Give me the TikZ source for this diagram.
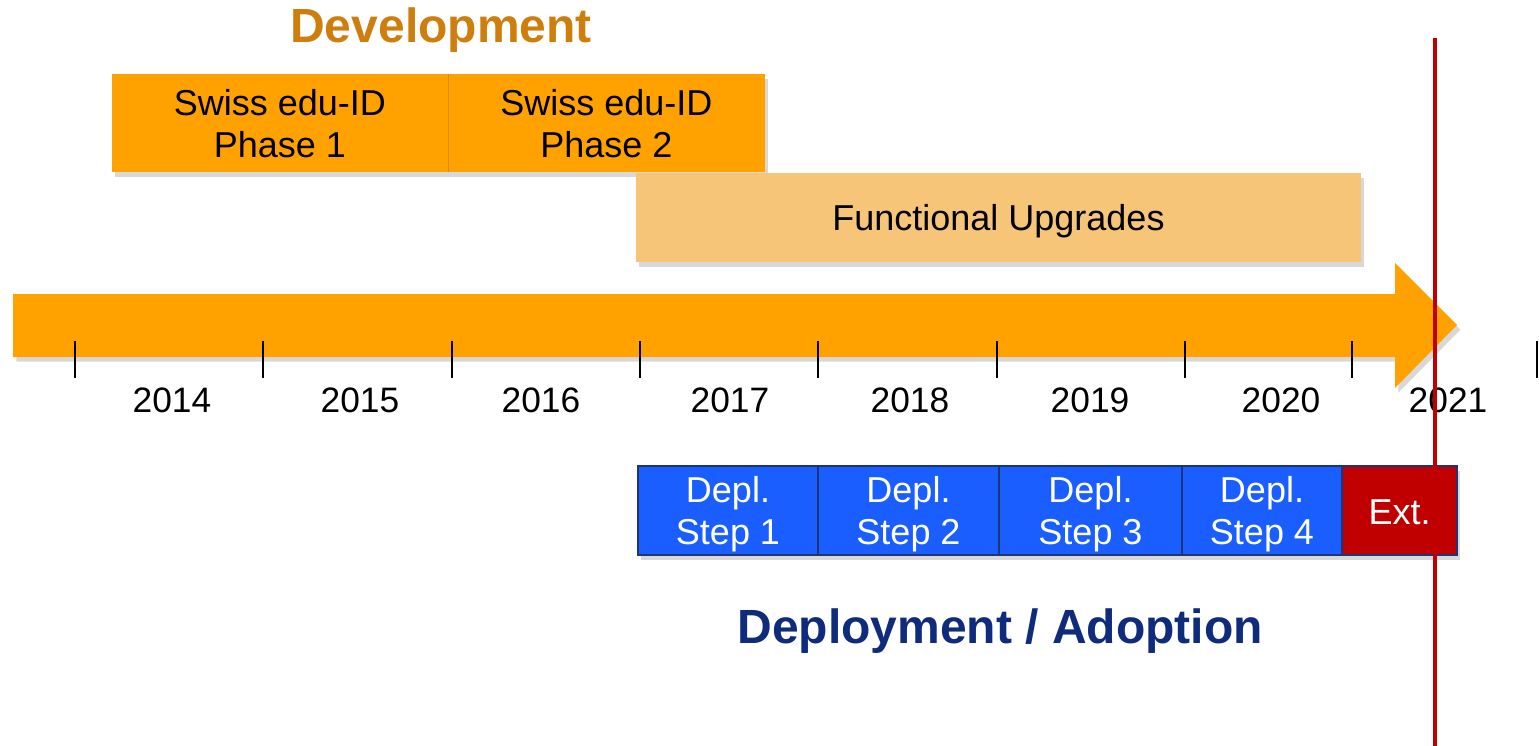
\documentclass[tikz,border=0pt]{standalone}
\usepackage{fontspec}
\setmainfont{Liberation Sans}
\usetikzlibrary{shadows}
\definecolor{orng}{HTML}{FFA200}
\definecolor{lorng}{HTML}{F6C577}
\definecolor{devtitle}{HTML}{CE7E0C}
\definecolor{depblue}{HTML}{1A5EFF}
\definecolor{navy}{HTML}{1C3576}
\definecolor{deptitle}{HTML}{0E2B7C}
\definecolor{extred}{HTML}{C00000}
\tikzset{
  shad/.style={drop shadow={shadow xshift=2.5pt,shadow yshift=-3.5pt,opacity=0.22,fill=black!70}},
  txt/.style={font=\fontsize{27}{31.5}\selectfont, align=center},
  lbl/.style={txt, inner sep=0pt},
  devbox/.style={shad, fill=orng, inner sep=0pt, minimum height=73.5pt},
  fubox/.style={shad, fill=lorng, inner sep=0pt, minimum height=66.75pt},
  depbox/.style={shad, fill=depblue, draw=navy, line width=1.4pt, inner sep=0pt, minimum height=66.75pt},
  tick/.style={line width=2pt, black},
  year/.style={font=\fontsize{26.5}{31.5}\selectfont, inner sep=0pt},
  title/.style={font=\fontsize{36}{40}\selectfont\bfseries, inner sep=0pt}
}
\begin{document}
\begin{tikzpicture}[x=0.75pt,y=-0.75pt]
\useasboundingbox (0,0) rectangle (1539,746);
% title
\node[title, text=devtitle] (devt) at (441,30) {Development};
% development boxes
\node[devbox, minimum width=252pt, label={[lbl, yshift=-0.75pt]center:Swiss edu-ID\\Phase 1}] (ph1) at (280,123) {};
\node[devbox, minimum width=237.75pt, label={[lbl, yshift=-0.75pt]center:Swiss edu-ID\\Phase 2}] (ph2) at (606.5,123) {};
\draw[orng!85!black, line width=0.6pt] (ph1.north east) -- (ph1.south east);
\node[fubox, minimum width=543.75pt, label={[lbl, yshift=-2.8pt]center:Functional Upgrades}] (fu) at (998.5,217.5) {};
% timeline arrow
\fill[orng, shad] (13,294) -- (1395,294) -- (1395,263) -- (1457,325) -- (1395,388) -- (1395,357) -- (13,357) -- cycle;
% ticks
\foreach \x in {75,263,452,640,818,997,1185,1352,1537}
  \draw[tick] (\x,341) -- (\x,378);
% years
\node[year] (y14) at (172,400) {2014};
\node[year] (y15) at (360,400) {2015};
\node[year] (y16) at (541,400) {2016};
\node[year] (y17) at (730,400) {2017};
\node[year] (y18) at (910,400) {2018};
\node[year] (y19) at (1090,400) {2019};
\node[year] (y20) at (1281,400) {2020};
\node[year] (y21) at (1448,400) {2021};
% deployment boxes
\node[depbox, minimum width=135pt, label={[lbl, text=white, yshift=-2.6pt]center:Depl.\\Step 1}] (s1) at (728,510.5) {};
\node[depbox, minimum width=135.75pt, label={[lbl, text=white, yshift=-2.6pt]center:Depl.\\Step 2}] (s2) at (908.5,510.5) {};
\node[depbox, minimum width=137.25pt, label={[lbl, text=white, yshift=-2.6pt]center:Depl.\\Step 3}] (s3) at (1090.5,510.5) {};
\node[depbox, minimum width=120pt, label={[lbl, text=white, yshift=-2.6pt]center:Depl.\\Step 4}] (s4) at (1262,510.5) {};
\node[depbox, fill=extred, minimum width=86.25pt, label={[lbl, text=white, yshift=-1pt]center:Ext.}] (ext) at (1399.5,510.5) {};
% bottom title
\node[title, text=deptitle] (dept) at (1000,631) {Deployment / Adoption};
% red now-line
\coordinate (ltop) at (1435,38);
\coordinate (lbot) at (1435,746);
\draw[extred, line width=3.6pt] (ltop) -- (lbot);
\end{tikzpicture}
\end{document}
